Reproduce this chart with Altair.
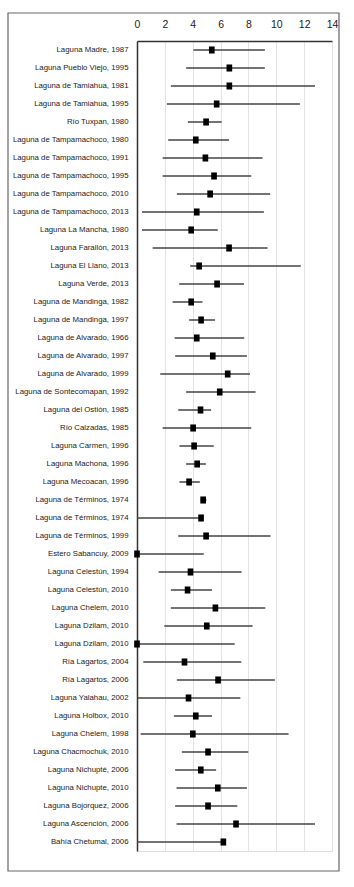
import altair as alt
import pandas as pd
import json

names = [
    "Laguna Madre, 1987", "Laguna Pueblo Viejo, 1995", "Laguna de Tamiahua, 1981",
    "Laguna de Tamiahua, 1995", "Río Tuxpan, 1980", "Laguna de Tampamachoco, 1980",
    "Laguna de Tampamachoco, 1991", "Laguna de Tampamachoco, 1995", "Laguna de Tampamachoco, 2010",
    "Laguna de Tampamachoco, 2013", "Laguna La Mancha, 1980", "Laguna Farallón, 2013",
    "Laguna El Llano, 2013", "Laguna Verde, 2013", "Laguna de Mandinga, 1982",
    "Laguna de Mandinga, 1997", "Laguna de Alvarado, 1966", "Laguna de Alvarado, 1997",
    "Laguna de Alvarado, 1999", "Laguna de Sontecomapan, 1992", "Laguna del Ostión, 1985",
    "Río Calzadas, 1985", "Laguna Carmen, 1996", "Laguna Machona, 1996",
    "Laguna Mecoacan, 1996", "Laguna de Términos, 1974", "Laguna de Términos, 1974",
    "Laguna de Términos, 1999", "Estero Sabancuy, 2009", "Laguna Celestún, 1994",
    "Laguna Celestún, 2010", "Laguna Chelem, 2010", "Laguna Dzilam, 2010",
    "Laguna Dzilam, 2010", "Ría Lagartos, 2004", "Ría Lagartos, 2006",
    "Laguna Yalahau, 2002", "Laguna Holbox, 2010", "Laguna Chelem, 1998",
    "Laguna Chacmochuk, 2010", "Laguna Nichupté, 2006", "Laguna Nichupte, 2010",
    "Laguna Bojorquez, 2006", "Laguna Ascención, 2006", "Bahía Chetumal, 2006",
]
estimate = [5.37, 6.63, 6.63, 5.72, 4.96, 4.22, 4.91, 5.53, 5.25, 4.29,
            3.89, 6.61, 4.46, 5.75, 3.89, 4.60, 4.29, 5.44, 6.51, 5.94,
            4.56, 4.03, 4.10, 4.32, 3.74, 4.75, 4.60, 4.96, 0.0, 3.84,
            3.63, 5.63, 5.01, 0.0, 3.41, 5.82, 3.70, 4.22, 4.01, 5.10,
            4.58, 5.80, 5.10, 7.11, 6.20]
lower = [4.05, 3.53, 2.43, 2.15, 3.65, 2.24, 1.84, 1.84, 2.86, 0.36,
         0.36, 1.12, 3.82, 3.03, 2.55, 3.74, 2.70, 2.74, 1.67, 3.53,
         2.96, 1.84, 3.05, 3.53, 3.05, 4.56, 0.0, 2.96, 0.0, 1.55,
         2.43, 2.43, 1.96, 0.0, 0.45, 2.86, 0.05, 2.65, 0.26, 3.22,
         2.74, 2.84, 2.74, 2.84, 0.0]
upper = [9.18, 9.18, 12.78, 11.69, 6.08, 6.61, 9.01, 8.20, 9.56, 9.11,
         5.80, 9.37, 11.76, 7.68, 4.70, 5.60, 7.70, 7.89, 8.11, 8.51,
         5.32, 8.20, 5.51, 4.94, 4.51, 4.98, 4.60, 9.59, 4.79, 7.51,
         5.39, 9.21, 8.30, 7.01, 7.49, 9.90, 7.42, 5.39, 10.88, 7.99,
         5.68, 7.89, 7.20, 12.78, 6.20]
x_ticks = [0, 2, 4, 6, 8, 10, 12, 14]

df = pd.DataFrame({
    "idx": list(range(len(names))),
    "name": names,
    "est": estimate,
    "lo": lower,
    "hi": upper,
})

label_expr = json.dumps(names, ensure_ascii=False) + "[datum.value]"

FONT = "Liberation Sans, Arial, sans-serif"

xscale = alt.Scale(domain=[0, 14], nice=False, zero=False)
yscale = alt.Scale(paddingInner=0, paddingOuter=0)

y_axis = alt.Axis(
    labelExpr=label_expr, ticks=False, domain=True, domainColor="#333",
    domainWidth=1.5, labelPadding=9, labelFont=FONT, labelFontSize=7.8,
    labelColor="#222", grid=False, labelLimit=200, labelOverlap=False,
)

x_axis = alt.Axis(
    orient="top", values=x_ticks, ticks=False, domain=True,
    domainColor="#333", domainWidth=1.5, labelPadding=12,
    labelFont=FONT, labelFontSize=10.5, labelColor="#222",
    labelOverlap=False, labelFlush=False,
    grid=True, gridColor="#e3e3e3", gridWidth=1,
)

bars = alt.Chart(df).mark_rule(color="#444", strokeWidth=1.5).encode(
    x=alt.X("lo:Q", scale=xscale, title=None, axis=x_axis),
    x2="hi:Q",
    y=alt.Y("idx:O", scale=yscale, title=None, axis=y_axis),
)

pts = alt.Chart(df).mark_point(
    shape="M-0.8,-1L0.8,-1L0.8,1L-0.8,1Z", filled=True, color="#000", opacity=1,
    size=50,
).encode(
    x=alt.X("est:Q", scale=xscale, title=None, axis=x_axis),
    y=alt.Y("idx:O", scale=yscale, title=None, axis=y_axis),
)

frame = alt.Chart(pd.DataFrame({"a": [0]})).mark_rect(
    fill=None, stroke="#666", strokeWidth=1.2, clip=False,
).encode(
    x=alt.value(-129), x2=alt.value(202),
    y=alt.value(-28), y2=alt.value(830),
)

chart = alt.layer(bars, pts, frame).properties(
    width=195, height=810,
    autosize=alt.AutoSizeParams(type="none"),
    padding={"left": 137, "top": 41, "right": 17, "bottom": 36},
).configure_view(stroke=None).configure(background="white")

chart.save("out.html", embed_options={"renderer": "svg", "actions": False})
